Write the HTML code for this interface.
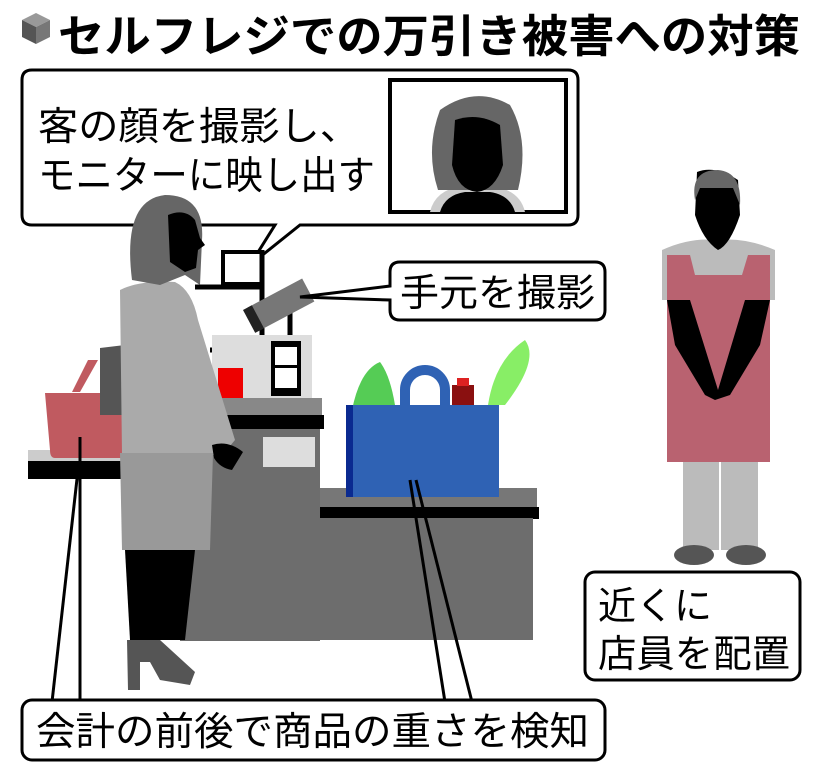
<!DOCTYPE html>
<html><head><meta charset="utf-8"><style>
html,body{margin:0;padding:0;background:#fff;}
svg{display:block;}
text{font-family:"Liberation Sans","Noto Sans CJK JP",sans-serif;fill:#000;}
</style></head><body>
<svg width="820" height="774" viewBox="0 0 820 774" xmlns="http://www.w3.org/2000/svg">
<!-- title icon -->
<polygon points="22,20 36,13 50,20 36,27" fill="#999"/>
<polygon points="22,20 36,27 36,44 22,37" fill="#555"/>
<polygon points="50,20 36,27 36,44 50,37" fill="#777"/>
<text x="58" y="52" font-size="45" font-weight="bold" textLength="742" lengthAdjust="spacingAndGlyphs">セルフレジでの万引き被害への対策</text>

<!-- callout 1 -->
<path d="M32,70 H568 Q578,70 578,80 V215 Q578,225 568,225 H300 L250,265 L275,225 H32 Q22,225 22,215 V80 Q22,70 32,70 Z" fill="#fff" stroke="#000" stroke-width="3"/>
<text x="38" y="140" font-size="39" textLength="322" lengthAdjust="spacingAndGlyphs">客の顔を撮影し、</text>
<text x="38" y="189" font-size="39" textLength="337" lengthAdjust="spacingAndGlyphs">モニターに映し出す</text>
<rect x="390" y="80" width="176" height="132" fill="#fff" stroke="#000" stroke-width="4"/>
<path d="M430,212 Q435,190 462,186 L492,186 Q520,190 525,212 Z" fill="#ccc"/>
<path d="M440,212 Q445,195 465,192 L490,192 Q510,195 515,212 Z" fill="#000"/>
<path d="M438,190 Q425,150 440,110 Q475,85 510,105 Q530,140 518,190 Z" fill="#666"/>
<path d="M455,120 Q478,112 500,125 L503,165 Q495,190 477,192 Q458,190 452,165 Z" fill="#000"/>

<!-- monitor arm & camera -->
<rect x="223" y="252" width="39" height="32" fill="#fff" stroke="#000" stroke-width="4"/>
<line x1="195" y1="287" x2="262" y2="287" stroke="#000" stroke-width="5"/>
<line x1="262" y1="250" x2="262" y2="352" stroke="#000" stroke-width="5"/>
<line x1="210" y1="350" x2="262" y2="350" stroke="#000" stroke-width="5"/>
<line x1="290" y1="300" x2="290" y2="340" stroke="#000" stroke-width="5"/>
<rect x="212" y="335" width="100" height="63" fill="#ddd"/>
<rect x="218" y="368" width="25" height="30" fill="#e00"/>
<rect x="271" y="341" width="30" height="55" fill="#000"/>
<rect x="275" y="347" width="22" height="18" fill="#fff"/>
<rect x="275" y="368" width="22" height="20" fill="#fff"/>
<g transform="rotate(-28 280 305)"><rect x="250" y="292" width="62" height="26" fill="#777"/><rect x="245" y="292" width="10" height="26" fill="#222"/></g>

<!-- callout 2 -->
<path d="M400,262 H595 Q605,262 605,272 V310 Q605,320 595,320 H400 Q390,320 390,310 V300 L300,297 L390,286 V272 Q390,262 400,262 Z" fill="#fff" stroke="#000" stroke-width="3"/>
<text x="400" y="306" font-size="38" textLength="195" lengthAdjust="spacingAndGlyphs">手元を撮影</text>

<!-- upper counter -->
<rect x="210" y="398" width="112" height="18" fill="#888"/>
<rect x="180" y="415" width="144" height="14" fill="#000"/>
<rect x="180" y="429" width="140" height="212" fill="#6d6d6d"/>
<rect x="263" y="437" width="52" height="30" fill="#ddd"/>
<!-- lower counter -->
<rect x="320" y="488" width="217" height="20" fill="#777"/>
<rect x="320" y="507" width="219" height="12" fill="#000"/>
<rect x="320" y="518" width="213" height="122" fill="#6d6d6d"/>

<!-- vegetables & bag -->
<path d="M352,410 Q360,370 380,362 Q390,375 395,405 Z" fill="#5c5"/>
<path d="M488,405 Q495,360 525,340 Q540,360 505,405 Z" fill="#8e6"/>
<rect x="452" y="385" width="22" height="25" fill="#8a1010"/>
<rect x="457" y="378" width="12" height="8" fill="#d22"/>
<path d="M405,410 V390 A20,20 0 0 1 445,390 V410" fill="none" stroke="#2f62b4" stroke-width="10"/>
<rect x="346" y="405" width="153" height="92" fill="#2f62b4"/>
<rect x="346" y="405" width="7" height="92" fill="#0a2a90"/>

<!-- shelf & basket -->
<rect x="28" y="450" width="95" height="12" fill="#ccc"/>
<rect x="28" y="461" width="152" height="18" fill="#000"/>
<path d="M88,360 L98,360 L80,392 L72,392 Z" fill="#c05a60"/>
<path d="M45,393 H122 V458 H55 Q50,458 50,450 Z" fill="#c05a60"/>

<!-- woman -->
<path d="M100,348 L125,345 L128,415 L100,415 Z" fill="#555"/>
<path d="M120,290 Q140,280 175,282 Q192,290 198,320 L235,440 L225,452 L213,455 L122,455 Z" fill="#aaa"/>
<path d="M132,280 Q122,200 165,195 Q205,195 202,240 L200,285 L185,275 L160,285 Z" fill="#666"/>
<path d="M168,215 Q185,208 195,220 L200,238 L205,245 L198,250 L196,268 L185,272 L170,262 Z" fill="#000"/>
<path d="M212,445 Q228,440 243,452 L232,470 Q220,468 214,458 Z" fill="#000"/>
<path d="M120,453 H213 L210,550 H122 Z" fill="#999"/>
<path d="M125,550 H195 L185,640 H130 Z" fill="#000"/>
<path d="M127,640 L160,640 L195,672 L190,685 L160,680 L150,662 L140,662 L140,690 L128,690 Z" fill="#555"/>

<!-- clerk -->
<path d="M662,250 Q690,237 718,240 Q745,237 775,250 V300 H662 Z" fill="#bbb"/>
<path d="M667,255 H690 L695,275 H742 L748,255 H770 V462 H667 Z" fill="#b96270"/>
<path d="M697,172 Q715,165 738,180 L740,215 Q730,245 718,250 Q703,240 695,215 Z" fill="#000"/>
<path d="M695,200 Q690,170 718,170 Q742,172 740,205 L733,188 L700,188 Z" fill="#666"/>
<path d="M667,300 H690 L718,390 L745,300 H770 L760,345 L730,395 L715,400 L705,395 L675,345 Z" fill="#000"/>
<rect x="683" y="462" width="36" height="88" fill="#bbb"/>
<rect x="721" y="462" width="37" height="88" fill="#bbb"/>
<ellipse cx="694" cy="555" rx="20" ry="10" fill="#555"/>
<ellipse cx="746" cy="555" rx="20" ry="10" fill="#555"/>

<!-- callout 3 -->
<rect x="585" y="572" width="215" height="108" rx="10" fill="#fff" stroke="#000" stroke-width="3"/>
<text x="598" y="619" font-size="38" textLength="114" lengthAdjust="spacingAndGlyphs">近くに</text>
<text x="598" y="667" font-size="38" textLength="192" lengthAdjust="spacingAndGlyphs">店員を配置</text>

<!-- leader lines to bottom callout -->
<line x1="80" y1="437" x2="80" y2="702" stroke="#000" stroke-width="3"/>
<line x1="78" y1="470" x2="52" y2="702" stroke="#000" stroke-width="3"/>
<line x1="410" y1="480" x2="445" y2="702" stroke="#000" stroke-width="3"/>
<line x1="416" y1="480" x2="472" y2="702" stroke="#000" stroke-width="3"/>

<!-- callout 4 -->
<rect x="22" y="700" width="583" height="60" rx="10" fill="#fff" stroke="#000" stroke-width="3"/>
<text x="36" y="745" font-size="39" textLength="553" lengthAdjust="spacingAndGlyphs">会計の前後で商品の重さを検知</text>
</svg>
</body></html>
